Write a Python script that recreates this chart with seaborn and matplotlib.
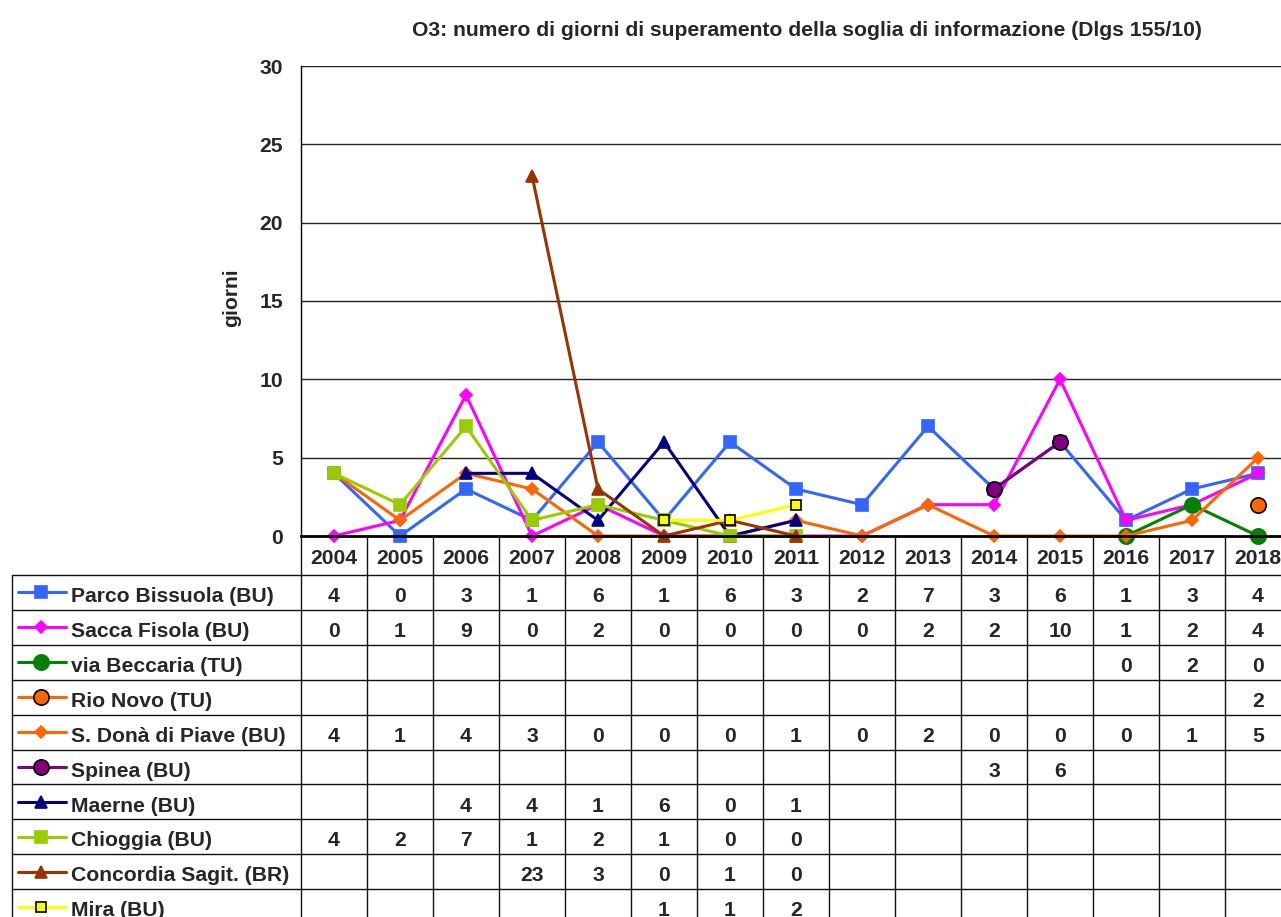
import numpy as np
import pandas as pd
import matplotlib
matplotlib.use("Agg")
import matplotlib.pyplot as plt
import seaborn as sns

nan = np.nan

years = [2004, 2005, 2006, 2007, 2008, 2009, 2010, 2011,
         2012, 2013, 2014, 2015, 2016, 2017, 2018]

parco_bissuola = [4, 0, 3, 1, 6, 1, 6, 3, 2, 7, 3, 6, 1, 3, 4]
sacca_fisola = [0, 1, 9, 0, 2, 0, 0, 0, 0, 2, 2, 10, 1, 2, 4]
via_beccaria = [nan] * 12 + [0, 2, 0]
rio_novo = [nan] * 14 + [2]
s_dona_piave = [4, 1, 4, 3, 0, 0, 0, 1, 0, 2, 0, 0, 0, 1, 5]
spinea = [nan] * 10 + [3, 6] + [nan] * 3
maerne = [nan, nan, 4, 4, 1, 6, 0, 1] + [nan] * 7
chioggia = [4, 2, 7, 1, 2, 1, 0, 0] + [nan] * 7
concordia = [nan, nan, nan, 23, 3, 0, 1, 0] + [nan] * 7
mira = [nan] * 5 + [1, 1, 2] + [nan] * 7

station_names = [
    "Parco Bissuola (BU)", "Sacca Fisola (BU)", "via Beccaria (TU)",
    "Rio Novo (TU)", "S. Donà di Piave (BU)", "Spinea (BU)",
    "Maerne (BU)", "Chioggia (BU)", "Concordia Sagit. (BR)", "Mira (BU)",
]
station_values = [parco_bissuola, sacca_fisola, via_beccaria, rio_novo,
                  s_dona_piave, spinea, maerne, chioggia, concordia, mira]

y_ticks = [0, 5, 10, 15, 20, 25, 30]

# style per station: line colour, marker, marker size, marker face, marker edge
styles = [
    dict(color="#3366FF", marker="s", ms=8, mfc="#3366FF", mec="#3366FF"),
    dict(color="#FF00FF", marker="D", ms=6.5, mfc="#FF00FF", mec="#FF00FF"),
    dict(color="#008000", marker="o", ms=11, mfc="#008000", mec="#008000"),
    dict(color="#FF6600", marker="o", ms=11, mfc="#FF6600", mec="black"),
    dict(color="#FF6600", marker="D", ms=6, mfc="#FF6600", mec="#FF6600"),
    dict(color="#800080", marker="o", ms=11, mfc="#800080", mec="black"),
    dict(color="#000080", marker="^", ms=9, mfc="#000080", mec="#000080"),
    dict(color="#99CC00", marker="s", ms=8.5, mfc="#99CC00", mec="#99CC00"),
    dict(color="#993300", marker="^", ms=9, mfc="#993300", mec="#993300"),
    dict(color="#FFFF00", marker="s", ms=7.5, mfc="#FFFF00", mec="black"),
]

sns.set_style("white")
plt.rcParams["font.family"] = ["Liberation Sans", "DejaVu Sans"]
plt.rcParams["font.weight"] = "bold"

FS = 15.2
W, H = 1281, 917
fig = plt.figure(figsize=(W / 100, H / 100), dpi=100)
fig.patch.set_facecolor("white")

# plot area geometry (pixels)
left_px, zero_px, top_px = 301, 536, 66
col_px = 66.0
row_px = 34.9
header_px = 39.0
n = len(years)

ax = fig.add_axes([left_px / W, 1 - zero_px / H, n * col_px / W,
                   (zero_px - top_px) / H])
xs = np.arange(n)

long = pd.DataFrame({
    "x": np.tile(xs, len(station_names)),
    "value": np.concatenate([np.asarray(v, float) for v in station_values]),
    "station": np.repeat(station_names, n),
})

for i, (name, st) in enumerate(zip(station_names, styles)):
    sub = long[(long["station"] == name) & long["value"].notna()]
    sns.lineplot(data=sub, x="x", y="value", ax=ax, estimator=None, sort=False,
                 color=st["color"], lw=2.2, marker=st["marker"],
                 markersize=st["ms"], markerfacecolor=st["mfc"],
                 markeredgecolor=st["mec"], markeredgewidth=1.2,
                 zorder=3 + i, clip_on=False)

ax.set_xlim(-0.5, n - 0.5)
ax.set_ylim(0, 30)
ax.set_yticks(y_ticks)
ax.set_yticklabels([str(t) for t in y_ticks], fontsize=FS, fontweight="bold")
ax.set_xticks([])
ax.set_xlabel("")
ax.set_ylabel("")
ax.tick_params(axis="y", length=0, pad=13)
for t in y_ticks[1:]:
    ax.axhline(t, color="#222222", lw=1.0, zorder=1)
for side in ["top", "right"]:
    ax.spines[side].set_visible(False)
ax.spines["left"].set_color("black")
ax.spines["left"].set_linewidth(1.0)
ax.spines["bottom"].set_color("black")
ax.spines["bottom"].set_linewidth(2.0)
ax.spines["bottom"].set_zorder(20)

fig.text(232 / W, 1 - 298 / H, "giorni", rotation=90, ha="center",
         va="center", fontsize=FS, fontweight="bold")
fig.text(807 / W, 1 - 30 / H,
         "O3: numero di giorni di superamento della soglia di informazione (Dlgs 155/10)",
         ha="center", va="center", fontsize=15.2, fontweight="bold")

# data table below the chart
n_rows = len(station_names)
table_left_px = 12
x_left = -0.5 - (left_px - table_left_px) / col_px
y_head = -header_px / row_px
tax = fig.add_axes([table_left_px / W, 1 - (zero_px + header_px + n_rows * row_px) / H,
                    (left_px + n * col_px - table_left_px) / W,
                    (header_px + n_rows * row_px) / H])
tax.set_xlim(x_left, n - 0.5)
tax.set_ylim(n_rows, y_head)
tax.axis("off")

line_kw = dict(color="#111111", lw=1.0, clip_on=False)
for r in range(n_rows + 1):
    tax.plot([x_left, n - 0.5], [r, r], **line_kw)
tax.plot([x_left, x_left], [0, n_rows], **line_kw)
for k in range(n + 1):
    tax.plot([k - 0.5, k - 0.5], [y_head, n_rows], **line_kw)

for k, yr in enumerate(years):
    tax.text(k, y_head / 2 + 0.08, str(yr), ha="center", va="center",
             fontsize=FS, fontweight="bold")

for r, (name, vals, st) in enumerate(zip(station_names, station_values, styles)):
    yc = r + 0.5
    lx0 = x_left + 6 / col_px
    lx1 = x_left + 54 / col_px
    mx = x_left + 29 / col_px
    tax.plot([lx0, lx1], [yc, yc], color=st["color"], lw=2.2, clip_on=False)
    tax.plot([mx], [yc], marker=st["marker"], ms=st["ms"], mfc=st["mfc"],
             mec=st["mec"], mew=1.2, clip_on=False, color=st["color"])
    tax.text(x_left + 59 / col_px, yc + 0.12, name, ha="left", va="center",
             fontsize=FS, fontweight="bold")
    for k, v in enumerate(vals):
        if not np.isnan(v):
            tax.text(k, yc + 0.12, f"{int(v)}", ha="center", va="center",
                     fontsize=FS, fontweight="bold")

fig.savefig("out.png", dpi=100, facecolor="white")
